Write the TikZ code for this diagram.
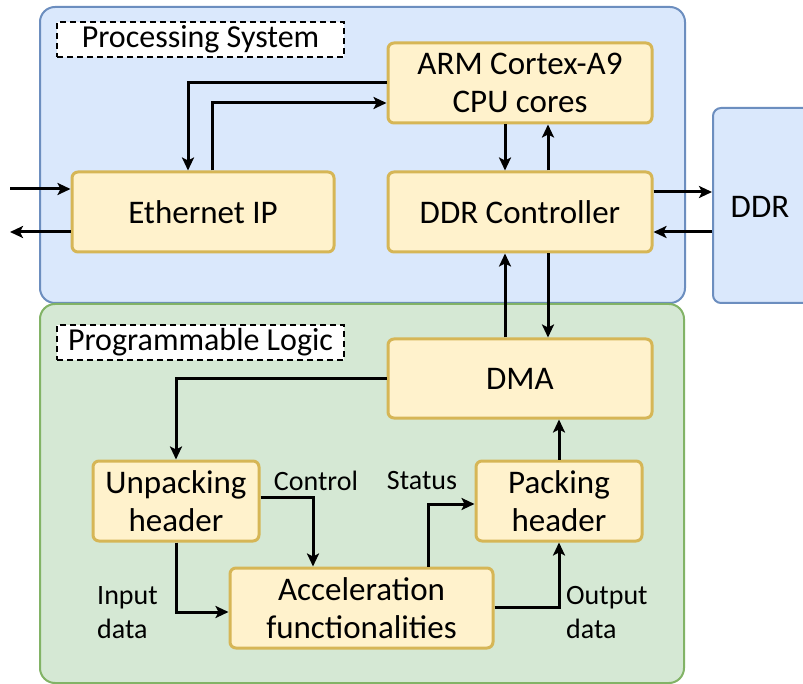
\documentclass[tikz,border=0pt]{standalone}
\usepackage{fontspec}
\setmainfont{Carlito}
\usetikzlibrary{arrows.meta}
\definecolor{psfill}{HTML}{DAE8FC}
\definecolor{psline}{HTML}{6C8EBF}
\definecolor{plfill}{HTML}{D5E8D4}
\definecolor{plline}{HTML}{82B366}
\definecolor{bxfill}{HTML}{FFF2CC}
\definecolor{bxline}{HTML}{D6B656}
\begin{document}
\begin{tikzpicture}[x=1pt,y=-1pt,
  container/.style={draw, line width=2pt, rounded corners=15pt, inner sep=0pt},
  blk/.style={draw=bxline, fill=bxfill, line width=3pt, rounded corners=6pt, inner sep=0pt, align=center, font=\fontsize{33}{38}\selectfont},
  tag/.style={draw=black, fill=white, dashed, dash pattern=on 6pt off 4pt, line width=2pt, inner sep=0pt, font=\fontsize{32}{36}\selectfont},
  lbl/.style={inner sep=0pt, align=left, font=\fontsize{28}{34}\selectfont},
  arr/.style={line width=3pt, -{Stealth[length=13pt,width=12pt,inset=3pt]}},
  ln/.style={line width=3pt}]
\clip (0,0) rectangle (803,684);
\fill[white] (0,0) rectangle (803,684);
% containers
\node[container, fill=psfill, draw=psline, minimum width=645pt, minimum height=296pt] (ps) at (362.5,155) {};
\node[container, fill=plfill, draw=plline, minimum width=644pt, minimum height=379pt] (pl) at (362,493.5) {};
\node[container, fill=psfill, draw=psline, rounded corners=8pt, minimum width=110pt, minimum height=195pt] (ddrbox) at (768,205.5) {};
\node[font=\fontsize{33}{38}\selectfont] (ddr) at (760,207) {DDR};
% tags
\node[tag, minimum width=287pt, minimum height=35pt] (pstag) at (200.5,39.5) {Processing System};
\node[tag, minimum width=287pt, minimum height=35pt] (pltag) at (200.5,342.5) {Programmable Logic};
% blocks
\node[blk, minimum width=264pt, minimum height=80pt] (arm) at (520,83) {ARM Cortex-A9\\CPU cores};
\node[blk, minimum width=262pt, minimum height=80pt] (eth) at (203,212) {Ethernet IP};
\node[blk, minimum width=264pt, minimum height=80pt] (ctrl) at (520,212) {DDR Controller};
\node[blk, minimum width=264pt, minimum height=79pt] (dma) at (520,378.5) {DMA};
\node[blk, minimum width=166pt, minimum height=80pt] (unp) at (176,501) {Unpacking\\header};
\node[blk, minimum width=166pt, minimum height=80pt] (pack) at (559,501) {Packing\\header};
\node[blk, minimum width=263pt, minimum height=80pt] (acc) at (361.5,608) {Acceleration\\functionalities};
% free ends
\coordinate (extin) at (10,189);
\coordinate (extout) at (10,232);
% connectors
\draw[arr] (arm.west) -| ([xshift=-15pt]eth.north);
\draw[arr] ([xshift=9pt]eth.north) |- ([yshift=-20pt]arm.west);
\draw[arr] (extin) -- (extin -| eth.west);
\draw[arr] (extout -| eth.west) -- (extout);
\draw[arr] ([xshift=-15pt]arm.south) -- ([xshift=-15pt]ctrl.north);
\draw[arr] ([xshift=28pt]ctrl.north) -- ([xshift=28pt]arm.south);
\draw[arr] ([yshift=20pt]ctrl.east) -- ([yshift=20pt]ctrl.east -| ddrbox.west);
\draw[arr] ([yshift=-20pt]ctrl.east -| ddrbox.west) -- ([yshift=-20pt]ctrl.east);
\draw[arr] ([xshift=-15pt]dma.north) -- ([xshift=-15pt]ctrl.south);
\draw[arr] ([xshift=28pt]ctrl.south) -- ([xshift=28pt]dma.north);
\draw[arr] (dma.west) -| (unp.north);
\draw[arr] (pack.north) -- (pack.north |- dma.south);
\draw[arr] ([yshift=4pt]unp.east) -| ([xshift=-48.5pt]acc.north);
\draw[arr] (unp.south) |- ([yshift=-4pt]acc.west);
\draw[arr] ([xshift=66.5pt]acc.north) |- ([yshift=-3pt]pack.west);
\draw[arr] ([yshift=1pt]acc.east) -| (pack.south);
% labels
\node[lbl] (lctrl) at (316,481) {Control};
\node[lbl] (lstat) at (422,481) {Status};
\node[lbl, anchor=west] (lin) at (97,613) {Input\\data};
\node[lbl, anchor=west] (lout) at (566,613) {Output\\data};
\end{tikzpicture}
\end{document}
